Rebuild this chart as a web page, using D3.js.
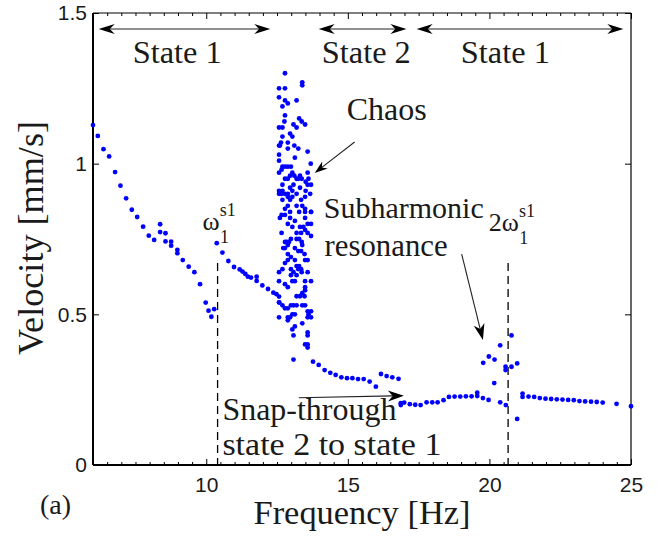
<!DOCTYPE html>
<html>
<head>
<meta charset="utf-8">
<script src="https://cdn.jsdelivr.net/npm/d3@7"></script>
<style>
  body { margin: 0; background: #fff; }
  text { fill: #1a1a1a; }
</style>
</head>
<body>
<svg id="chart"></svg>
<script>
// measured branches (Hz, mm/s)
var freq = [6.00,6.17,6.37,6.57,6.78,6.97,7.17,7.37,7.56,7.77,7.97,8.16,8.37,8.37,8.56,8.56,8.76,8.76,8.98,8.98,
  9.17,9.38,9.58,9.78,9.98,10.08,10.18,10.28,10.37,10.57,10.78,10.98,11.18,11.28,11.38,11.47,11.58,11.78,11.78,11.98,
  12.18,12.37,12.48,12.57,12.58,
  13.77,13.97,14.18,14.38,14.57,14.77,14.97,15.16,15.36,15.56,15.77,15.99,16.17,16.37,16.57,16.79,
  16.87,16.87,16.99,17.19,17.38,17.57,17.78,17.98,18.17,18.38,18.57,18.77,18.97,19.17,19.37,19.57,19.57,19.77,19.97,20.38,
  20.58,20.98,
  19.78,19.98,20.18,20.17,20.38,20.57,20.57,20.78,20.78,20.98,
  21.17,21.17,21.38,21.58,21.78,21.98,22.18,22.38,22.58,22.78,22.98,23.18,23.38,23.59,23.79,24.00,24.49,25.00];
var vel = [1.128,1.092,1.048,1.024,0.972,0.927,0.885,0.847,0.823,0.791,0.761,0.747,0.799,0.773,0.769,0.742,0.741,0.728,0.714,0.703,
  0.680,0.658,0.640,0.600,0.539,0.512,0.492,0.517,0.736,0.705,0.677,0.657,0.649,0.642,0.634,0.625,0.622,0.625,0.611,0.596,
  0.584,0.572,0.567,0.559,0.539,
  0.343,0.332,0.315,0.306,0.299,0.291,0.288,0.288,0.285,0.285,0.277,0.260,0.302,0.295,0.291,0.286,
  0.199,0.205,0.207,0.202,0.200,0.199,0.208,0.208,0.208,0.215,0.226,0.227,0.227,0.228,0.228,0.240,0.229,0.222,0.216,0.208,
  0.199,0.153,
  0.339,0.360,0.350,0.272,0.397,0.326,0.315,0.430,0.326,0.337,
  0.237,0.226,0.227,0.226,0.222,0.220,0.219,0.218,0.217,0.216,0.215,0.212,0.211,0.210,0.209,0.207,0.203,0.195];

// chaotic band around 12.6 - 13.7 Hz
var chaosFreq = [12.78,13.39,13.39,12.78,12.57,12.57,13.19,12.78,12.88,12.69,
  12.78,12.76,13.28,13.37,13.49,13.08,12.57,12.69,13.19,12.96,
  12.69,13.04,12.57,12.64,12.88,12.60,13.11,12.88,13.25,12.57,
  12.57,13.13,13.58,12.69,12.78,12.88,12.99,12.66,13.69,12.57,
  13.04,12.96,13.11,13.58,13.31,12.78,13.19,13.25,13.37,13.61,
  12.88,12.69,13.08,13.51,12.57,12.69,12.78,12.96,13.04,13.31,
  13.58,13.70,13.51,12.57,12.66,12.88,13.19,13.49,13.67,12.69,
  12.88,12.96,13.04,13.35,12.78,12.88,13.19,13.39,13.49,13.70,
  12.96,13.28,12.66,
  12.78,12.60,13.49,13.70,12.96,13.13,13.49,12.88,13.04,13.31,
  13.43,13.58,13.70,12.66,13.19,13.35,13.49,13.58,13.70,12.84,
  12.92,12.78,12.99,12.72,12.88,13.19,13.28,13.37,13.39,12.78,
  13.13,13.25,12.88,12.99,13.35,13.47,12.78,12.88,13.13,13.28,
  13.49,13.58,12.57,12.69,12.99,13.19,13.25,13.35,12.99,13.08,
  13.19,13.37,13.58,12.57,12.78,12.88,13.04,13.13,13.49,13.70,
  13.49,13.19,13.31,13.39,13.49,13.47,12.57,12.69,12.78,12.99,
  13.08,13.19,12.88,13.39,13.49,12.57,12.88,12.96,13.04,13.13,
  13.58,13.70,13.61,13.70,12.88,13.39,13.58,13.04,13.13,13.58,
  13.58,13.08,13.49,13.58,13.58,13.08];
var chaosVel = [1.30,1.27,1.26,1.25,1.25,1.22,1.21,1.21,1.20,1.19,
  1.16,1.14,1.15,1.14,1.13,1.13,1.12,1.12,1.12,1.10,
  1.09,1.09,1.06,1.07,1.07,1.06,1.06,1.05,1.05,1.03,
  1.01,1.02,1.04,0.99,0.99,0.99,0.99,0.98,1.00,0.97,
  0.97,0.96,0.96,0.97,0.96,0.95,0.95,0.95,0.95,0.95,
  0.95,0.93,0.93,0.94,0.91,0.91,0.90,0.92,0.91,0.92,
  0.93,0.93,0.91,0.90,0.90,0.90,0.90,0.89,0.90,0.88,
  0.89,0.88,0.89,0.88,0.85,0.86,0.86,0.86,0.85,0.84,
  0.84,0.84,0.83,
  0.83,0.82,0.84,0.84,0.82,0.81,0.82,0.80,0.79,0.79,
  0.79,0.80,0.80,0.77,0.77,0.77,0.78,0.77,0.76,0.74,
  0.74,0.74,0.75,0.72,0.73,0.75,0.75,0.74,0.73,0.72,
  0.72,0.71,0.70,0.69,0.71,0.70,0.67,0.68,0.68,0.66,
  0.68,0.68,0.64,0.65,0.65,0.66,0.65,0.65,0.63,0.64,
  0.63,0.64,0.64,0.61,0.60,0.59,0.61,0.61,0.61,0.61,
  0.59,0.56,0.56,0.57,0.58,0.56,0.54,0.53,0.52,0.53,
  0.53,0.53,0.52,0.53,0.53,0.49,0.49,0.49,0.50,0.50,
  0.51,0.51,0.50,0.49,0.48,0.47,0.49,0.45,0.46,0.44,
  0.43,0.43,0.40,0.40,0.39,0.35];

var xTicks = [10, 15, 20, 25];
var yTicks = [0, 0.5, 1, 1.5];
var yTickLabels = ['0', '0.5', '1', '1.5'];

var stateSpans = [[6.2, 12.26], [13.97, 17.07], [17.43, 24.73]];
var stateLabels = ['State 1', 'State 2', 'State 1'];
var stateLabelX = [7.40, 14.08, 18.99];

var resonanceFreq = [10.40, 20.66];   // w1 and 2*w1 markers

var margin = {top: 13, right: 28, bottom: 71, left: 93};
var W = 659, H = 536;
var width = W - margin.left - margin.right;
var height = H - margin.top - margin.bottom;

// pick the first serif face that is really installed
function pickFont(list) {
  var c = document.createElement('canvas').getContext('2d');
  var probe = 'mmmmmmmmmmlliWWQ@#Frequency';
  var found = null;
  list.forEach(function(f) {
    if (found) return;
    var diff = ['monospace', 'sans-serif'].every(function(base) {
      c.font = '40px ' + base; var w0 = c.measureText(probe).width;
      c.font = '40px "' + f + '", ' + base; return c.measureText(probe).width != w0;
    });
    if (diff) found = f;
  });
  return found || 'serif';
}
var serifName = pickFont(['Liberation Serif', 'DejaVu Serif']);
var serif = '"' + serifName + '", serif';
var fontScale = serifName == 'Liberation Serif' ? 1 : 0.91;

var svg = d3.select('#chart').attr('width', W).attr('height', H);
var g = svg.append('g').attr('transform', 'translate(' + margin.left + ',' + margin.top + ')');

var x = d3.scaleLinear().domain([6, 25]).range([0, width]);
var y = d3.scaleLinear().domain([0, 1.5]).range([height, 0]);

var minorX = d3.range(6.5, 25, 0.5).filter(function(v) { return v % 5 != 0; });

function styleAxis(sel) {
  sel.select('.domain').remove();
  sel.selectAll('line').attr('stroke', '#000').attr('stroke-width', 1);
  sel.selectAll('text').style('font-family', '"Liberation Sans", Arial, sans-serif')
    .style('font-size', '21px').attr('fill', '#1a1a1a');
}

g.append('g').attr('transform', 'translate(0,' + height + ')')
  .call(d3.axisBottom(x).tickValues(xTicks).tickSize(-6).tickPadding(12).tickFormat(d3.format('d')))
  .call(styleAxis);
g.append('g').attr('transform', 'translate(0,' + height + ')')
  .call(d3.axisBottom(x).tickValues(minorX).tickSize(-3).tickFormat(''))
  .call(styleAxis);
g.append('g')
  .call(d3.axisTop(x).tickValues(xTicks).tickSize(-6).tickFormat(''))
  .call(styleAxis);
g.append('g')
  .call(d3.axisTop(x).tickValues(minorX).tickSize(-3).tickFormat(''))
  .call(styleAxis);
g.append('g')
  .call(d3.axisLeft(y).tickValues(yTicks).tickSize(-6).tickPadding(6)
    .tickFormat(function(d, i) { return yTickLabels[i]; }))
  .call(styleAxis);
g.append('g').attr('transform', 'translate(' + width + ',0)')
  .call(d3.axisRight(y).tickValues(yTicks).tickSize(-6).tickFormat(''))
  .call(styleAxis);

// frame
g.append('line').attr('x1', 0).attr('x2', width).attr('y1', 0).attr('y2', 0).attr('stroke', '#000').attr('stroke-width', 1.2);
g.append('line').attr('x1', width).attr('x2', width).attr('y1', 0).attr('y2', height).attr('stroke', '#000').attr('stroke-width', 1.2);
g.append('line').attr('x1', 0).attr('x2', width).attr('y1', height).attr('y2', height).attr('stroke', '#000').attr('stroke-width', 2);
g.append('line').attr('x1', 0).attr('x2', 0).attr('y1', 0).attr('y2', height).attr('stroke', '#000').attr('stroke-width', 2);

// dashed resonance markers
g.selectAll('.res').data(resonanceFreq).enter().append('line')
  .attr('x1', function(d) { return x(d); }).attr('x2', function(d) { return x(d); })
  .attr('y1', y(0.67)).attr('y2', y(0))
  .attr('stroke', '#000').attr('stroke-width', 1.3).attr('stroke-dasharray', '8,5');

// data points
var pts = freq.map(function(f, i) { return [f, vel[i]]; })
  .concat(chaosFreq.map(function(f, i) { return [f, chaosVel[i]]; }));
g.append('g').selectAll('circle').data(pts).enter().append('circle')
  .attr('cx', function(d) { return x(d[0]); })
  .attr('cy', function(d) { return y(d[1]); })
  .attr('r', 2.4)
  .attr('fill', '#0000ff');

// arrows with matlab style heads
function head(px, py, ang, len, wid) {
  g.append('path')
    .attr('d', 'M0,0L' + (-len) + ',' + (-wid / 2) + 'L' + (-len * 0.7) + ',0L' + (-len) + ',' + (wid / 2) + 'Z')
    .attr('transform', 'translate(' + px + ',' + py + ') rotate(' + (ang * 180 / Math.PI) + ')')
    .attr('fill', '#000');
}
function arrow(x1, y1, x2, y2, both, len, wid) {
  var ax = x(x1), ay = y(y1), bx = x(x2), by = y(y2);
  var a = Math.atan2(by - ay, bx - ax);
  var off = len * 0.7;
  var sx = both ? ax + Math.cos(a) * off : ax, sy = both ? ay + Math.sin(a) * off : ay;
  g.append('line')
    .attr('x1', sx).attr('y1', sy)
    .attr('x2', bx - Math.cos(a) * off).attr('y2', by - Math.sin(a) * off)
    .attr('stroke', '#222').attr('stroke-width', 1.1);
  head(bx, by, a, len, wid);
  if (both) head(ax, ay, a + Math.PI, len, wid);
}

function label(txt, xv, yv, size, w) {
  var t = g.append('text').attr('x', x(xv)).attr('y', y(yv))
    .style('font-family', serif).style('font-size', (size * fontScale) + 'px').text(txt);
  if (w) t.attr('textLength', w).attr('lengthAdjust', 'spacingAndGlyphs');
  return t;
}

// omega with superscript s1 and subscript 1, all in one text element
function omegaLabel(base, xv, yv) {
  var t = g.append('text').attr('x', x(xv)).attr('y', y(yv))
    .style('font-family', serif).style('font-size', (26 * fontScale) + 'px');
  t.append('tspan').text(base);
  t.append('tspan').attr('dy', -14).style('font-size', (18 * fontScale) + 'px').text('s1');
  t.append('tspan').attr('dx', -15).attr('dy', 27).style('font-size', (18 * fontScale) + 'px').text('1');
}

stateSpans.forEach(function(s, i) {
  arrow(s[0], 1.447, s[1], 1.447, true, 16, 10);
  label(stateLabels[i], stateLabelX[i], 1.333, 32, 89);
});

label('Chaos', 14.96, 1.145, 32, 80);
arrow(15.24, 1.072, 13.83, 0.969, false, 13, 9);

label('Subharmonic', 14.15, 0.820, 30, 160);
label('resonance', 14.18, 0.694, 32, 123);
arrow(19.02, 0.700, 19.77, 0.415, false, 16, 11);

label('Snap-through', 10.57, 0.149, 32, 174);
label('state 2 to state 1', 10.57, 0.033, 32, 219);
arrow(13.27, 0.223, 16.98, 0.230, false, 16, 11);

omegaLabel('\u03c9', 9.87, 0.78);
omegaLabel('2\u03c9', 19.98, 0.775);

// axis titles
g.append('text').attr('x', width / 2).attr('y', height + 59)
  .attr('text-anchor', 'middle').attr('textLength', 217).attr('lengthAdjust', 'spacingAndGlyphs')
  .style('font-family', serif).style('font-size', (34 * fontScale) + 'px')
  .text('Frequency [Hz]');
g.append('text').attr('transform', 'translate(-50,' + (height / 2 - 1) + ') rotate(-90)')
  .attr('text-anchor', 'middle').attr('textLength', 234).attr('lengthAdjust', 'spacingAndGlyphs')
  .style('font-family', serif).style('font-size', (35 * fontScale) + 'px')
  .text('Velocity [mm/s]');
g.append('text').attr('x', -53).attr('y', height + 49)
  .style('font-family', serif).style('font-size', (28 * fontScale) + 'px')
  .text('(a)');
</script>
</body>
</html>
